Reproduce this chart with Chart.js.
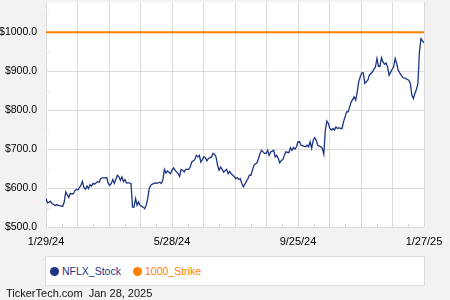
<!DOCTYPE html>
<html lang="en">
<head>
    <meta charset="UTF-8">
    <title>NFLX Stock vs 1000 Strike</title>
    <script src="https://cdn.jsdelivr.net/npm/chart.js"></script>
    <style>
        html, body { margin: 0; padding: 0; background: #f2f2f2; }
        #wrap { position: relative; width: 450px; height: 300px; overflow: hidden; font-family: "Liberation Sans", Arial, sans-serif; }
        #chart { position: absolute; left: 0; top: 0; }
        #legend { position: absolute; left: 45px; top: 256px; width: 380px; height: 30px; box-sizing: border-box;
                  background: #fff; border: 1px solid #dcdcdc; font-size: 10.5px; display: flex; align-items: center; padding-left: 4px; }
        .item { display: flex; align-items: center; margin-right: 12px; }
        .dot { width: 9px; height: 9px; border-radius: 50%; margin-right: 3px; }
        #footer { position: absolute; left: 6px; top: 288px; font-size: 11px; line-height: 11px; color: #111; white-space: pre; }
    </style>
</head>
<body>
<div id="wrap">
    <canvas id="chart" width="450" height="300"></canvas>
    <div id="legend"></div>
    <div id="footer">TickerTech.com  Jan 28, 2025</div>
</div>
<script>
    // trading-day offsets from 1/29/24 and closing prices
    const days = [0, 1, 3, 4, 6, 7, 9, 11, 12, 13, 14, 15, 16, 18, 19, 20, 21, 23, 24, 25,
        26, 27, 28, 29, 30, 31, 32, 34, 35, 36, 37, 39, 40, 41, 42, 43, 44, 45, 47, 48,
        49, 50, 51, 52, 53, 54, 56, 57, 58, 59, 60, 61, 62, 64, 65, 66, 67, 68, 69, 70,
        72, 73, 75, 76, 77, 78, 79, 80, 82, 83, 84, 86, 87, 88, 89, 90, 91, 92, 94, 95,
        96, 98, 99, 100, 101, 102, 103, 104, 105, 106, 107, 109, 110, 111, 112, 113, 114, 115, 116, 117,
        119, 120, 121, 122, 123, 124, 125, 126, 127, 128, 129, 130, 131, 133, 134, 135, 136, 137, 139, 140,
        141, 142, 143, 144, 145, 146, 147, 148, 150, 151, 152, 153, 154, 155, 156, 157, 158, 160, 161, 162,
        163, 164, 165, 166, 167, 168, 169, 171, 172, 173, 174, 175, 176, 177, 178, 179, 181, 182, 183, 184,
        185, 186, 187, 188, 189, 190, 191, 192, 193, 194, 195, 196, 197, 198, 199, 200, 201, 203, 204, 205,
        206, 207, 208, 209, 210, 211, 212, 213, 215, 216, 217, 218, 219, 220, 221, 222, 223, 224, 225, 226,
        228, 229, 230, 231, 232, 233, 234, 235, 237, 238, 239, 240, 241, 242, 243, 244, 245, 246, 247, 248, 249];
    const prices = [573, 562, 566, 560, 555, 557, 555, 553, 564, 590, 583, 576, 586, 585, 593, 597, 595, 607, 617, 601,
        597, 605, 599, 609, 605, 612, 610, 617, 615, 624, 626, 626, 627, 612, 607, 612, 622, 612, 633, 629,
        620, 629, 616, 622, 613, 614, 612, 551, 551, 573, 556, 564, 556, 551, 547, 556, 573, 599, 607, 610,
        613, 612, 615, 612, 622, 648, 639, 644, 637, 646, 652, 641, 637, 630, 648, 646, 641, 648, 648, 654,
        667, 673, 684, 680, 684, 667, 673, 680, 678, 670, 676, 680, 689, 687, 680, 659, 646, 654, 648, 641,
        648, 637, 643, 637, 633, 630, 624, 627, 622, 624, 612, 603, 610, 624, 633, 633, 646, 659, 665, 676,
        689, 697, 693, 689, 689, 697, 684, 693, 697, 680, 684, 676, 665, 671, 673, 684, 693, 691, 704, 697,
        704, 700, 706, 719, 719, 710, 709, 706, 710, 706, 719, 702, 723, 730, 723, 710, 706, 702, 687, 749,
        772, 766, 753, 749, 753, 749, 757, 753, 755, 753, 753, 770, 783, 796, 796, 808, 821, 834, 826, 847,
        873, 886, 896, 896, 869, 873, 877, 890, 898, 905, 911, 933, 913, 913, 935, 924, 918, 921, 911, 890,
        905, 911, 933, 920, 903, 896, 890, 884, 881, 879, 877, 869, 839, 830, 843, 853, 869, 950, 984, 978, 973];
    const strike = 1000;
    const tickLabels = ['1/29/24', '5/28/24', '9/25/24', '1/27/25'];
    const yTicks = [500, 600, 700, 800, 900, 1000];
    const seriesNames = ['NFLX_Stock', '1000_Strike'];
    const colors = ['#1d3580', '#ff8000'];

    const lastDay = days[days.length - 1];
    const xStep = lastDay / 12;
    const xGrid = [];
    for (let k = 0; k <= 12; k++) xGrid.push(k * xStep);
    const xMinor = xGrid.slice(0, -1).map(v => v + xStep / 2);
    const yMinor = yTicks.map(v => v + 50);
    const gridColor = '#dadada';
    const font = 'Liberation Sans';

    const plotArea = {
        id: 'plotArea',
        beforeDraw(chart) {
            const { ctx, chartArea: a } = chart;
            ctx.save();
            ctx.fillStyle = '#fff';
            ctx.fillRect(a.left, a.top, a.right - a.left, a.bottom - a.top);
            ctx.restore();
        },
        beforeDatasetsDraw(chart) {
            const { ctx, chartArea: a, scales } = chart;
            ctx.save();
            ctx.strokeStyle = gridColor;
            ctx.lineWidth = 1;
            ctx.beginPath();
            xMinor.forEach(v => {
                const px = Math.round(scales.x.getPixelForValue(v)) + 0.5;
                ctx.moveTo(px, a.bottom);
                ctx.lineTo(px, a.bottom - 3);
            });
            yMinor.forEach(v => {
                const py = Math.round(scales.y.getPixelForValue(v)) + 0.5;
                ctx.moveTo(a.left, py);
                ctx.lineTo(a.left + 3, py);
            });
            ctx.stroke();
            ctx.restore();
        }
    };

    new Chart(document.getElementById('chart').getContext('2d'), {
        type: 'line',
        data: {
            datasets: [{
                label: seriesNames[0],
                data: days.map((d, i) => ({ x: d, y: prices[i] })),
                borderColor: colors[0],
                borderWidth: 1.3,
                pointRadius: 0,
                fill: false
            }, {
                label: seriesNames[1],
                data: [{ x: days[0], y: strike }, { x: lastDay, y: strike }],
                borderColor: colors[1],
                borderWidth: 2,
                pointRadius: 0,
                fill: false
            }]
        },
        options: {
            responsive: false,
            animation: false,
            layout: { padding: { left: 0, right: 26, top: 2, bottom: 53 } },
            plugins: { legend: { display: false }, tooltip: { enabled: false } },
            scales: {
                x: {
                    type: 'linear',
                    min: 0,
                    max: lastDay,
                    afterBuildTicks: s => { s.ticks = xGrid.map(v => ({ value: v })); },
                    afterFit: s => { s.height = 20; s.paddingLeft = 0; s.paddingRight = 0; },
                    grid: { color: gridColor, drawTicks: false },
                    border: { display: false },
                    ticks: {
                        padding: 8,
                        autoSkip: false,
                        maxRotation: 0,
                        color: '#000',
                        font: { family: font, size: 11 },
                        callback: (v, i) => (i % 4 === 0 ? tickLabels[i / 4] : '')
                    }
                },
                y: {
                    min: 500,
                    max: 1078,
                    afterBuildTicks: s => { s.ticks = yTicks.map(v => ({ value: v })); },
                    afterFit: s => { s.width = 46; s.paddingTop = 0; s.paddingBottom = 0; },
                    grid: { color: gridColor, drawTicks: false },
                    border: { display: false },
                    ticks: {
                        padding: 9,
                        color: '#000',
                        font: { family: font, size: 10.5 },
                        callback: v => '$' + v.toFixed(1)
                    }
                }
            }
        },
        plugins: [plotArea]
    });

    const legend = document.getElementById('legend');
    seriesNames.forEach((name, i) => {
        const item = document.createElement('div');
        item.className = 'item';
        item.innerHTML = '<span class="dot" style="background:' + colors[i] + '"></span>' +
            '<span style="color:' + colors[i] + '">' + name + '</span>';
        legend.appendChild(item);
    });
</script>
</body>
</html>
